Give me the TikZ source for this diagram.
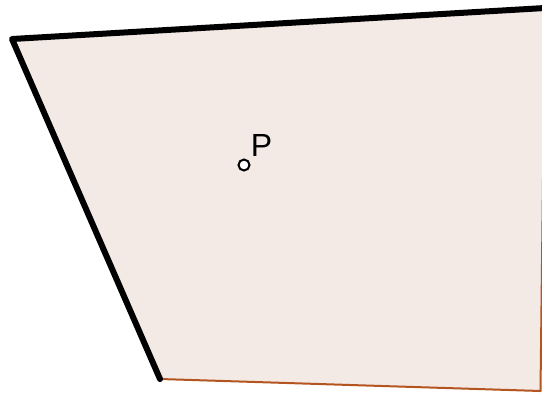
\documentclass[tikz,border=0pt]{standalone}
\usepackage{fontspec}
\setsansfont{Liberation Sans}
\usetikzlibrary{positioning}
\definecolor{planefill}{HTML}{F3E9E5}
\definecolor{edgebrown}{HTML}{B4541E}

\begin{document}
\begin{tikzpicture}[
    x=1pt, y=-1pt,
    thickedge/.style={draw=black, line width=6pt, line cap=round, line join=round},
    thinedge/.style={draw=edgebrown, line width=2pt},
    dot/.style={circle, draw=black, fill=white, line width=2pt, inner sep=0pt, minimum size=11pt},
    label/.style={font=\fontsize{32}{32}\selectfont\sffamily, inner sep=0pt, anchor=south west},
]
    \useasboundingbox (0,0) rectangle (542,392);
    \clip (0,0) rectangle (542,392);

    % Corners
    \coordinate (A) at (12,39);
    \coordinate (B) at (160,379);
    \coordinate (C) at (540.5,391);
    \coordinate (D) at (545,8);

    % Plane
    \fill[planefill] (A) -- (B) -- (C) -- (D) -- cycle;
    \draw[thinedge] (B) -- (C) -- (D);
    \draw[thickedge] (B) -- (A) -- (D);

    % Point
    \node[dot] (p) at (244,165) {};
    \node[label, above right=4pt and 2pt of p] (plabel) {P};
\end{tikzpicture}
\end{document}
